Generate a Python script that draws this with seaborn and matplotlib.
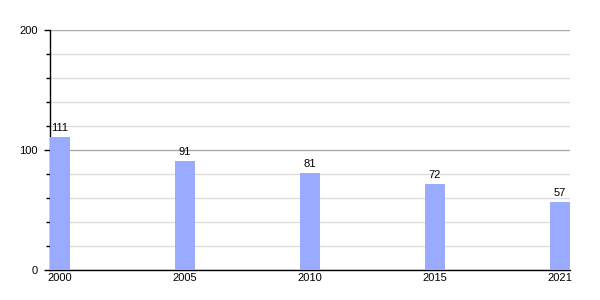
import matplotlib
matplotlib.use("Agg")
import matplotlib.pyplot as plt
import seaborn as sns
import pandas as pd
from matplotlib.ticker import MultipleLocator

years = ["2000", "2005", "2010", "2015", "2021"]
values = [111, 91, 81, 72, 57]

df = pd.DataFrame({"year": years, "value": values})

sns.set_style("white")
plt.rcParams["font.family"] = ["Liberation Sans", "DejaVu Sans"]
plt.rcParams["text.color"] = "black"
plt.rcParams["xtick.color"] = "black"
plt.rcParams["ytick.color"] = "black"

fig = plt.figure(figsize=(6, 3), dpi=100)
ax = fig.add_axes([50/600, 30/300, 520/600, 240/300])

sns.barplot(data=df, x="year", y="value", color="#9aabff", saturation=1,
            width=0.16, linewidth=0, ax=ax, zorder=3)

ax.set_xlim(-0.08, 4.08)
ax.set_ylim(0, 200)
ax.yaxis.set_major_locator(MultipleLocator(100))
ax.yaxis.set_minor_locator(MultipleLocator(20))
ax.grid(which="major", axis="y", color="#aaaaaa", linewidth=1, zorder=0)
ax.grid(which="minor", axis="y", color="#dddddd", linewidth=1, zorder=0)
ax.set_axisbelow(True)

for s in ["top", "right"]:
    ax.spines[s].set_visible(False)
for s in ["left", "bottom"]:
    ax.spines[s].set_color("black")
    ax.spines[s].set_linewidth(1)

ax.tick_params(axis="y", which="major", length=4, width=1, left=True,
               labelsize=8, pad=5)
ax.tick_params(axis="y", which="minor", length=3, width=1, color="black", left=True)
ax.tick_params(axis="x", length=0, labelsize=8, pad=2)
ax.set_xlabel("")
ax.set_ylabel("")

for i, v in enumerate(values):
    ax.text(i, v + 3, str(v), ha="center", va="bottom", fontsize=8,
            color="black", zorder=4)

fig.savefig("out.png", dpi=100)
